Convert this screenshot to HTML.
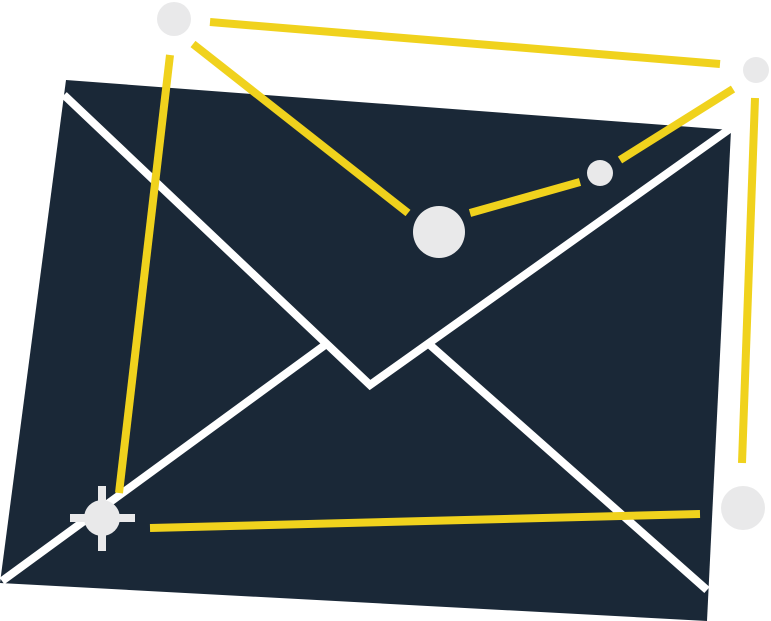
<!DOCTYPE html>
<html><head><style>html,body{margin:0;padding:0;background:#fff}svg{display:block}</style></head>
<body>
<svg width="771" height="621" viewBox="0 0 771 621" xmlns="http://www.w3.org/2000/svg">
<polygon points="66,80 731,130 707,621 0,583" fill="#1a2837"/>
<g stroke="#fff" stroke-width="8" fill="none" stroke-linecap="butt">
<polyline points="64,95 370,385 731,128"/>
<line x1="2" y1="581" x2="325" y2="345"/>
<line x1="430" y1="345" x2="707" y2="590"/>
</g>
<g stroke="#f0d21d" stroke-width="8" stroke-linecap="butt">
<line x1="210" y1="22" x2="720" y2="64"/>
<line x1="193" y1="44" x2="408" y2="213"/>
<line x1="470" y1="213" x2="580" y2="182"/>
<line x1="620" y1="160" x2="733" y2="89"/>
<line x1="170" y1="55" x2="119" y2="493"/>
<line x1="755" y1="98" x2="742" y2="463"/>
<line x1="150" y1="528" x2="700" y2="514"/>
</g>
<g fill="#e9e9ea">
<circle cx="174" cy="19" r="17"/>
<circle cx="756" cy="70" r="13"/>
<circle cx="600" cy="173" r="13"/>
<circle cx="439" cy="232" r="26"/>
<circle cx="743" cy="508" r="22"/>
<circle cx="102" cy="518" r="18"/>
<rect x="70" y="514" width="65" height="8"/>
<rect x="98" y="486" width="8" height="65"/>
</g>
</svg>
</body></html>
